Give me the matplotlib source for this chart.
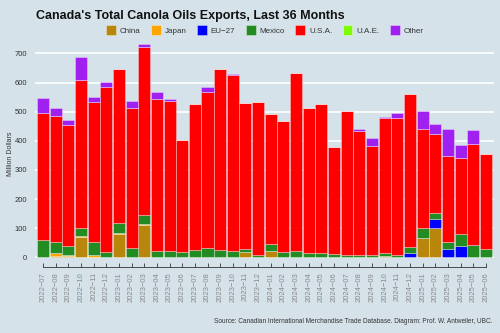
import matplotlib
matplotlib.use("Agg")
import matplotlib.pyplot as plt
from matplotlib.patches import Patch
import numpy as np

months = ["2022-07","2022-08","2022-09","2022-10","2022-11","2022-12",
          "2023-01","2023-02","2023-03","2023-04","2023-05","2023-06",
          "2023-07","2023-08","2023-09","2023-10","2023-11","2023-12",
          "2024-01","2024-02","2024-03","2024-04","2024-05","2024-06",
          "2024-07","2024-08","2024-09","2024-10","2024-11","2024-12",
          "2025-01","2025-02","2025-03","2025-04","2025-05","2025-06"]

china  = [0, 6, 4, 69, 1, 0, 79, 0, 110, 0, 0, 0, 0, 0, 0, 0, 19, 0,
          22, 0, 0, 0, 0, 0, 0, 0, 0, 3, 0, 0, 66, 99, 1, 0, 0, 0]
japan  = [1, 8, 4, 4, 6, 0, 6, 0, 3, 0, 0, 0, 0, 0, 0, 0, 0, 0,
          0, 0, 0, 0, 0, 0, 0, 0, 0, 2, 0, 0, 0, 2, 1, 0, 0, 0]
eu27   = [0, 0, 0, 0, 0, 0, 0, 0, 0, 0, 0, 0, 0, 0, 0, 0, 0, 0,
          0, 0, 0, 0, 0, 0, 0, 0, 0, 0, 0, 14, 0, 29, 28, 39, 0, 0]
mexico = [58, 40, 32, 29, 47, 19, 34, 33, 32, 22, 22, 18, 25, 33, 25, 23, 10, 8,
          24, 18, 21, 16, 16, 11, 7, 9, 8, 9, 8, 20, 36, 21, 23, 40, 42, 29]
usa    = [435, 432, 414, 508, 480, 564, 528, 480, 577, 520, 513, 384, 500, 535, 622, 604, 499, 525,
          445, 449, 610, 495, 509, 366, 495, 425, 375, 464, 470, 525, 337, 271, 294, 262, 348, 326]
uae    = [0]*36
other  = [53, 25, 16, 79, 15, 20, 1, 24, 9, 25, 9, 0, 0, 15, 0, 2, 2, 0,
          0, 0, 0, 0, 0, 0, 0, 5, 28, 4, 19, 0, 64, 37, 95, 44, 48, 0]

series = [("China", china, "#B8860B"), ("Japan", japan, "#FFA500"),
          ("EU\u221227", eu27, "#0000FF"), ("Mexico", mexico, "#228B22"),
          ("U.S.A.", usa, "#FF0000"), ("U.A.E.", uae, "#7CFC00"),
          ("Other", other, "#A020F0")]

plt.rcParams['font.family'] = ['Liberation Sans', 'DejaVu Sans']
bg = "#d5e2ea"
fig = plt.figure(figsize=(5, 3.33), dpi=100, facecolor=bg)
ax = fig.add_axes([0.0708, 0.1994, 0.9162, 0.6796], facecolor=bg)

x = np.arange(len(months))
bottom = np.zeros(len(months))
for name, vals, col in series:
    v = np.array(vals, dtype=float)
    ax.bar(x, v, bottom=bottom, width=0.95, color=col,
           edgecolor=(1, 1, 1, 0.45), linewidth=0.5, zorder=3)
    bottom += v

ax.set_xlim(-0.6, 35.6)
ax.set_ylim(-32, 745)
ax.set_yticks(range(0, 701, 100))
ax.yaxis.grid(True, color="white", linewidth=1.2, zorder=0)
ax.set_axisbelow(True)
for s in ["top", "right", "left"]:
    ax.spines[s].set_visible(False)
ax.spines["bottom"].set_bounds(0, 35)
ax.spines["bottom"].set_color("#333333")
ax.spines["bottom"].set_linewidth(0.6)
ax.set_xticks(x)
ax.set_xticklabels([m.replace("-", "\u2212") for m in months], rotation=90,
                   fontsize=5.5, color="#8a8a8a")
ax.tick_params(axis="x", direction="in", length=3, width=0.6, color="#333333", pad=4)
ax.tick_params(axis="y", length=0, labelsize=5.5, labelcolor="#333333", pad=6)
ax.set_ylabel("Million Dollars", fontsize=5, color="#333333", labelpad=0.5)

fig.text(0.072, 0.953, "Canada's Total Canola Oils Exports, Last 36 Months",
         fontsize=9, fontweight="bold", ha="left", va="center", color="#111111")

handles = [Patch(facecolor=c, edgecolor=(1, 1, 1, 0.5), linewidth=0.5) for _, _, c in series]
labels = [n for n, _, _ in series]
fig.legend(handles, labels, loc="center", bbox_to_anchor=(0.53, 0.91), ncol=7,
           frameon=False, fontsize=5.8, handlelength=1.2, handleheight=1.4,
           handletextpad=0.5, columnspacing=1.3, labelcolor="#333333")

fig.text(0.986, 0.036, "Source: Canadian International Merchandise Trade Database. Diagram: Prof. W. Antweiler, UBC.",
         fontsize=4.7, ha="right", va="center", color="#333333")

fig.savefig("out.png", dpi=100, facecolor=bg)
